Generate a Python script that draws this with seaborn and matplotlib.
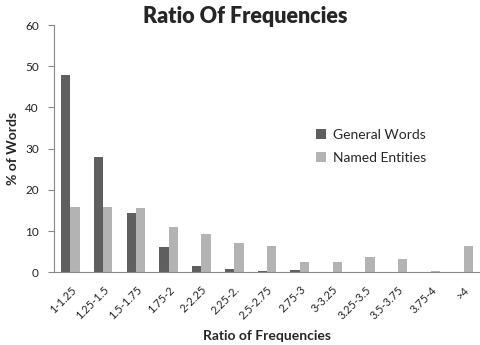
import matplotlib
matplotlib.use("Agg")
import matplotlib.pyplot as plt
import seaborn as sns
import pandas as pd

categories = ["1-1.25", "1.25-1.5", "1.5-1.75", "1.75-2", "2-2.25", "2.25-2.",
              "2.5-2.75", "2.75-3", "3-3.25", "3.25-3.5", "3.5-3.75", "3.75-4", ">4"]
general_words = [47.8, 27.9, 14.3, 6.1, 1.5, 0.8, 0.4, 0.6, 0.0, 0.0, 0.0, 0.0, 0.0]
named_entities = [15.9, 15.9, 15.5, 11.0, 9.2, 7.2, 6.4, 2.5, 2.5, 3.6, 3.2, 0.3, 6.4]
series_names = ["General Words", "Named Entities"]

df = pd.DataFrame({
    "Ratio": categories * 2,
    "Percent": general_words + named_entities,
    "Series": [series_names[0]] * len(categories) + [series_names[1]] * len(categories),
})

sns.set_style("white")
plt.rcParams["font.family"] = ["Lato", "DejaVu Sans"]

fig = plt.figure(figsize=(4.8, 3.45), dpi=100)
ax = fig.add_axes([0.1125, 0.2107, 0.8875, 0.7168])

sns.barplot(data=df, x="Ratio", y="Percent", hue="Series", order=categories,
            hue_order=series_names, palette=["#5f5f5f", "#b3b3b3"],
            width=0.57, saturation=1, ax=ax, linewidth=0)

ax.set_ylim(0, 60)
ax.set_xlim(-0.5, len(categories) - 0.5)
ax.set_yticks(range(0, 61, 10))
ax.tick_params(axis="y", which="major", left=True, length=4, width=0.8,
               color="#888888", labelsize=8.5, pad=7, labelcolor="#222222")
ax.tick_params(axis="x", bottom=False, labelsize=8, labelcolor="#222222", pad=5)
plt.setp(ax.get_xticklabels(), rotation=45, ha="right", rotation_mode="anchor")

for side in ["top", "right"]:
    ax.spines[side].set_visible(False)
for side in ["left", "bottom"]:
    ax.spines[side].set_color("#888888")
    ax.spines[side].set_linewidth(0.8)

ax.set_ylabel("% of Words", fontsize=10, fontweight="bold", labelpad=4)
ax.set_xlabel("Ratio of Frequencies", fontsize=10, fontweight="bold", labelpad=6)
fig.text(0.51, 0.953, "Ratio Of Frequencies", ha="center", va="center",
         fontsize=15.5, fontweight="heavy")

ax.legend(loc="upper left", bbox_to_anchor=(0.585, 0.63), frameon=False,
          fontsize=10, handlelength=0.75, handleheight=0.75, handletextpad=0.5,
          labelspacing=0.8)

fig.savefig("out.png", dpi=100)
